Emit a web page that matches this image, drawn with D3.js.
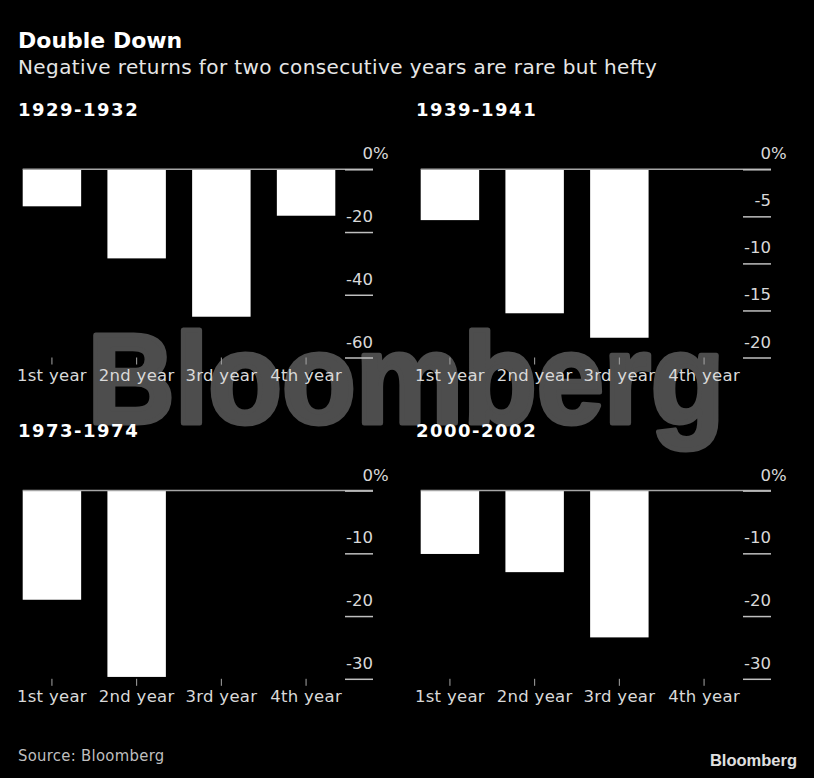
<!DOCTYPE html>
<html>
<head>
<meta charset="utf-8">
<script src="https://cdn.jsdelivr.net/npm/d3@7"></script>
<style>
	body{margin:0;background:#000;}
	svg{display:block;}
</style>
</head>
<body>
<div class="chart"></div>
<script>
const years=['1st year','2nd year','3rd year','4th year']
const panelTitles=['1929-1932','1939-1941','1973-1974','2000-2002']
const returns1929=[-11.8,-28.4,-47.0,-14.8]
const returns1939=[-5.4,-15.3,-17.9]
const returns1973=[-17.4,-29.7]
const returns2000=[-10.1,-13.0,-23.4]
const ticks1929=[0,-20,-40,-60]
const ticks1939=[0,-5,-10,-15,-20]
const ticks1973=[0,-10,-20,-30]
const ticks2000=[0,-10,-20,-30]

const width=814,height=778
const labelFont='"DejaVu Sans", sans-serif'

const svg=d3.select('.chart').append('svg')
	.attr('width',width)
	.attr('height',height)

svg.append('rect')
	.attr('width',width)
	.attr('height',height)
	.attr('fill','#000')

// watermark sits behind everything, stroked to get the heavy look
svg.append('text')
	.attr('x',87.5)
	.attr('y',422.5)
	.attr('textLength',637)
	.attr('lengthAdjust','spacingAndGlyphs')
	.style('font-family','"Liberation Sans", Arial, sans-serif')
	.style('font-weight','bold')
	.style('font-size','128px')
	.attr('fill','#4d4d4d')
	.attr('stroke','#4d4d4d')
	.attr('stroke-width',5)
	.attr('stroke-linejoin','round')
	.text('Bloomberg')

svg.append('text')
	.attr('x',18)
	.attr('y',48)
	.style('font-family',labelFont)
	.style('font-weight','bold')
	.style('font-size','22px')
	.attr('fill','#fff')
	.text('Double Down')

svg.append('text')
	.attr('x',18)
	.attr('y',74)
	.style('font-family',labelFont)
	.style('font-size','20px')
	.style('letter-spacing','0.4px')
	.attr('fill','#e6e6e6')
	.text('Negative returns for two consecutive years are rare but hefty')

const panels=[
	{title:panelTitles[0],values:returns1929,ticks:ticks1929},
	{title:panelTitles[1],values:returns1939,ticks:ticks1939},
	{title:panelTitles[2],values:returns1973,ticks:ticks1973},
	{title:panelTitles[3],values:returns2000,ticks:ticks2000}
]

const plotTop=169.3,plotBottom=357.5
const bandLeft=22.7,bandRight=335.3,axisRight=373

function panel(p,i){
	const ox=(i%2)*398,oy=Math.floor(i/2)*321.3
	const g=svg.append('g')
		.attr('transform','translate('+ox+','+oy+')')

	g.append('text')
		.attr('x',18)
		.attr('y',116)
		.style('font-family',labelFont)
		.style('font-weight','bold')
		.style('font-size','18px')
		.style('letter-spacing','1.5px')
		.attr('fill','#fff')
		.text(p.title)

	let xScale=d3.scaleBand()
		.domain(years)
		.range([bandLeft,bandRight])
		.paddingInner(0.31)
		.paddingOuter(0)
		.align(0)

	let yScale=d3.scaleLinear()
		.domain([d3.min(p.ticks),0])
		.range([plotBottom,plotTop])

	g.selectAll('.bar')
		.data(p.values)
		.enter()
		.append('rect')
		.attr('class','bar')
		.attr('x',(d,j)=>xScale(years[j]))
		.attr('y',yScale(0))
		.attr('width',xScale.bandwidth())
		.attr('height',d=>yScale(d)-yScale(0))
		.attr('fill','#fff')

	g.append('line')
		.attr('x1',bandLeft)
		.attr('x2',axisRight)
		.attr('y1',yScale(0))
		.attr('y2',yScale(0))
		.attr('stroke','#a6a6a6')
		.attr('stroke-width',1.5)

	let yAxis=d3.axisLeft()
		.scale(yScale)
		.tickValues(p.ticks)
		.tickSize(28)
		.tickFormat(d=>String(d))

	let ya=g.append('g')
		.attr('class','y-axis')
		.attr('transform','translate('+axisRight+',0)')
		.call(yAxis)
	ya.select('.domain').remove()
	ya.selectAll('.tick line')
		.attr('stroke','#bfbfbf')
		.attr('stroke-width',1.5)
	ya.selectAll('.tick text')
		.attr('x',0)
		.attr('dy',0)
		.attr('y',-10.5)
		.attr('text-anchor','end')
		.attr('fill','#d9d9d9')
		.style('font-family',labelFont)
		.style('font-size','16.5px')
	ya.selectAll('.tick')
		.filter(d=>d===0)
		.append('text')
		.attr('x',0)
		.attr('y',-10.5)
		.attr('text-anchor','start')
		.attr('fill','#d9d9d9')
		.style('font-family',labelFont)
		.style('font-size','16.5px')
		.text('%')

	let xAxis=d3.axisBottom()
		.scale(xScale)
		.tickSize(7)
		.tickPadding(4.5)

	let xa=g.append('g')
		.attr('class','x-axis')
		.attr('transform','translate(0,'+plotBottom+')')
		.call(xAxis)
	xa.select('.domain').remove()
	xa.selectAll('.tick line')
		.attr('stroke','#a6a6a6')
	xa.selectAll('.tick text')
		.attr('fill','#d9d9d9')
		.style('font-family',labelFont)
		.style('font-size','16.5px')
		.style('letter-spacing','0.3px')
}

panels.forEach(panel)

svg.append('text')
	.attr('x',18)
	.attr('y',761)
	.style('font-family','"DejaVu Sans Condensed", "DejaVu Sans", sans-serif')
	.style('font-stretch','condensed')
	.style('font-size','16.5px')
	.style('letter-spacing','0.3px')
	.attr('fill','#bfbfbf')
	.text('Source: Bloomberg')

svg.append('text')
	.attr('x',797)
	.attr('y',766)
	.attr('text-anchor','end')
	.style('font-family','"Liberation Sans", Arial, sans-serif')
	.style('font-weight','bold')
	.style('font-size','16.5px')
	.attr('fill','#e0e0e0')
	.text('Bloomberg')
</script>
</body>
</html>
